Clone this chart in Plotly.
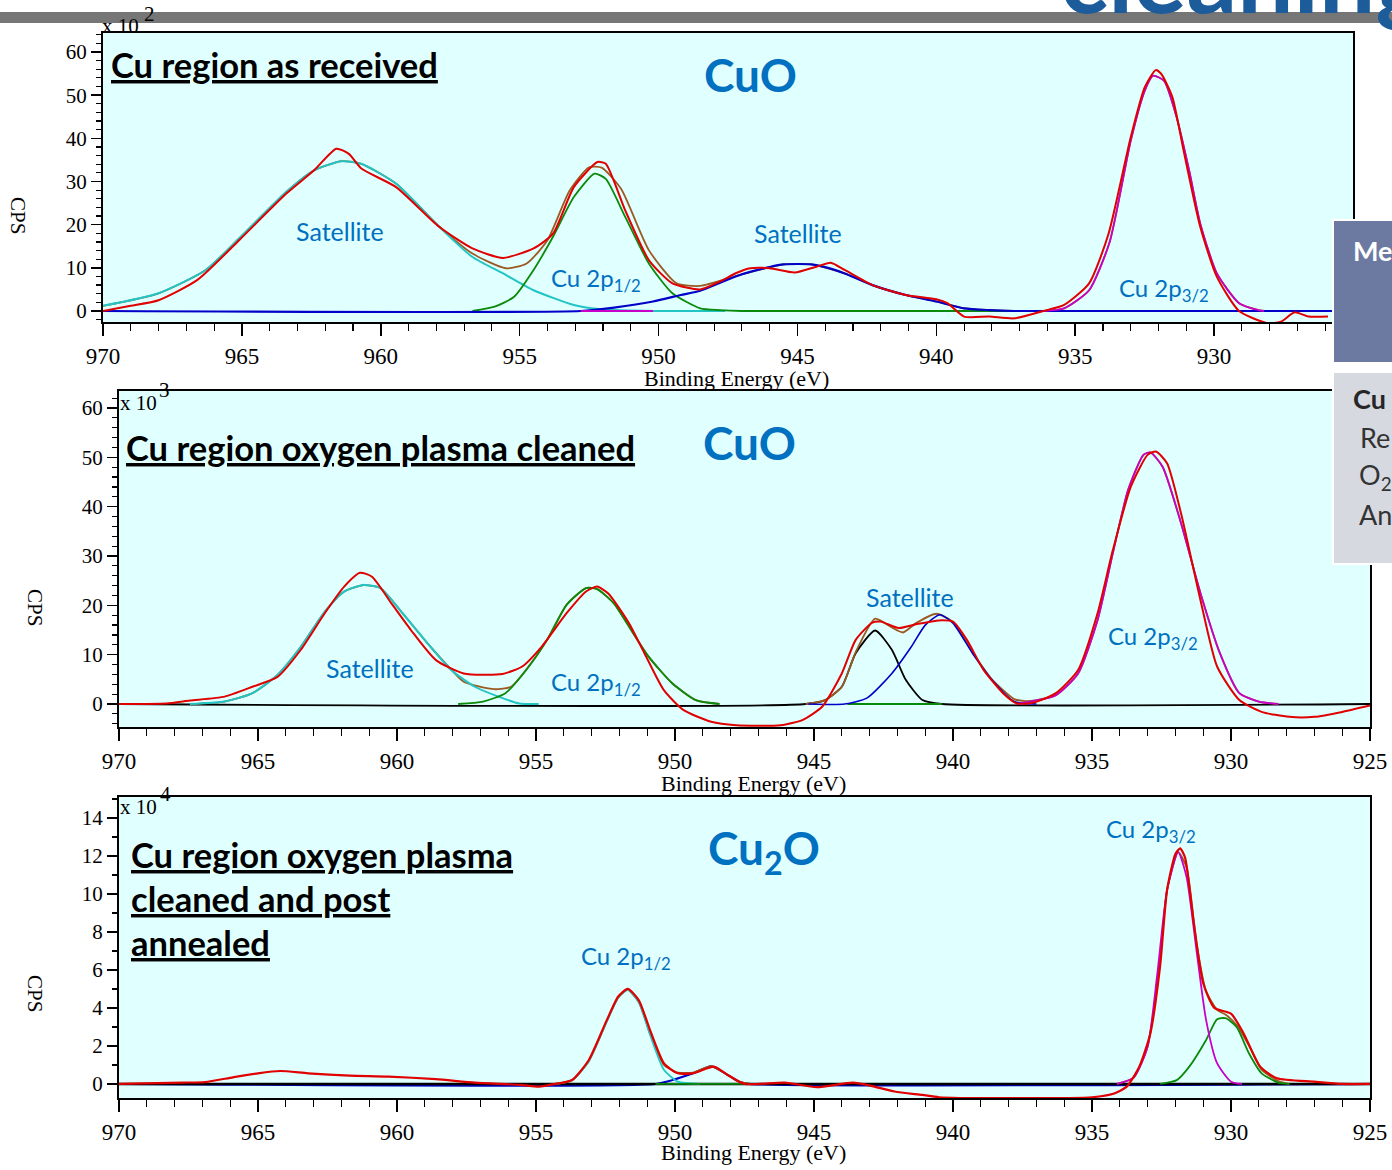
import plotly.graph_objects as go

W, H = 1392, 1170
OFF = 0  # body margin removed below, so figure pixels equal screen pixels

# ---------------- Panel 1 : Cu region as received (CPS x 10^2) ----------------
p1_red_E = [970.0, 969.0, 968.0, 966.6, 965.1, 963.4, 962.4, 961.6, 961.15, 960.7, 959.45, 957.9, 956.7, 955.6,
            954.5, 953.8, 953.05, 952.2, 951.9, 951.2, 950.35, 949.5, 948.5, 947.8, 947.2, 946.7, 946.0, 945.1,
            944.35, 943.8, 943.3, 942.3, 941.1, 940.0, 939.6, 939.0, 938.1, 937.2, 936.15, 935.4, 934.5, 933.8,
            933.0, 932.5, 932.1, 931.9, 931.5, 931.1, 930.5, 929.9, 929.1, 928.1, 927.6, 927.1, 926.6, 925.9]
p1_red_v = [0.0, 1.2, 2.5, 7.2, 16.4, 27.2, 32.6, 37.6, 36.4, 33.0, 28.7, 19.5, 14.5, 12.3,
            14.5, 17.9, 28.7, 34.5, 34.1, 23.3, 11.8, 6.4, 5.0, 6.8, 8.8, 9.9, 9.9, 8.9,
            10.2, 11.2, 9.5, 6.0, 3.7, 2.7, 1.8, -1.3, -1.3, -1.7, 0.0, 1.4, 6.4, 17.9,
            40.3, 51.8, 55.8, 54.9, 49.5, 37.2, 19.5, 7.9, 0.0, -2.8, -2.5, -0.3, -1.3, -1.3]

p1_env_E = [970.0, 968.0, 966.3, 965.1, 963.4, 962.4, 961.4, 960.7, 959.45, 957.9, 956.7, 955.5, 954.75, 954.0,
            953.2, 952.5, 952.05, 951.35, 950.35, 949.35, 948.5, 947.0, 945.5, 944.5, 943.3, 942.3, 941.1, 940.0,
            939.0, 938.1, 937.2, 936.15, 935.4, 934.5, 933.76, 933.0, 932.5, 932.2, 931.8, 931.35, 930.9, 930.5,
            929.9, 929.1, 928.4, 928.0]
p1_env_v = [1.2, 4.1, 9.5, 16.8, 27.6, 32.6, 34.7, 34.1, 29.5, 19.6, 13.3, 9.9, 11.0, 16.4,
            27.9, 33.3, 33.2, 28.3, 14.1, 6.4, 5.8, 8.5, 10.8, 10.8, 8.7, 6.0, 3.7, 2.2,
            0.6, 0.2, 0.0, 0.0, 0.6, 4.8, 16.0, 39.5, 51.0, 54.5, 53.3, 44.9, 32.6, 20.3,
            8.7, 1.8, 0.2, 0.0]

p1_sat1_E = [970.0, 968.0, 966.3, 965.1, 963.4, 962.4, 961.4, 960.7, 959.45, 957.9, 956.7, 955.6, 954.5,
             953.05, 952.05, 950.2, 947.6]
p1_sat1_v = [1.2, 4.1, 9.5, 16.8, 27.6, 32.6, 34.7, 34.1, 29.5, 19.5, 12.5, 8.7, 4.8,
             1.4, 0.4, 0.0, 0.0]

p1_p12_E = [956.7, 955.9, 955.2, 954.5, 953.8, 953.05, 952.3, 951.9, 951.2, 950.35, 949.5, 948.5, 947.8,
            947.0, 937.2]
p1_p12_v = [0.0, 1.0, 3.3, 9.5, 17.2, 26.4, 31.8, 30.6, 21.8, 11.0, 4.1, 0.6, 0.2,
            0.0, 0.0]

p1_sat2_E = [970.0, 952.8, 951.6, 950.2, 949.2, 948.5, 947.8, 947.0, 946.0, 945.5, 944.5, 943.9, 943.3,
             942.3, 941.1, 940.0, 939.0, 938.1, 937.2, 925.0]
p1_sat2_v = [0.0, 0.0, 0.8, 2.2, 3.7, 4.7, 6.5, 8.5, 10.2, 10.8, 10.8, 10.0, 8.7,
             6.0, 3.7, 2.2, 0.6, 0.2, 0.0, 0.0]

p1_p32_E = [952.8, 950.2, None, 936.15, 935.4, 934.5, 933.76, 933.0, 932.5, 932.2, 931.8, 931.35, 930.9,
            930.5, 929.9, 929.1, 928.4, 928.2]
p1_p32_v = [0.0, 0.0, None, 0.0, 0.6, 4.8, 16.0, 39.5, 51.0, 54.5, 53.3, 44.9, 32.6,
            20.3, 8.7, 1.8, 0.2, 0.0]

# ---------------- Panel 2 : oxygen plasma cleaned (CPS x 10^3) ----------------
p2_red_E = [970.0, 968.3, 967.45, 966.2, 965.2, 964.3, 963.46, 962.6, 961.9, 961.33, 960.9, 960.2, 959.5,
            958.6, 957.6, 956.2, 955.5, 954.8, 953.9, 953.2, 952.8, 952.4, 951.66, 951.1, 950.4, 949.7, 948.7,
            947.8, 946.2, 945.4, 944.7, 944.0, 943.5, 942.9, 942.6, 941.95, 941.3, 940.4, 940.0, 939.5, 938.9,
            938.2, 937.7, 937.1, 936.3, 935.5, 934.8, 934.25, 933.6, 933.0, 932.7, 932.3, 931.8, 931.1, 930.5,
            929.7, 928.9, 927.9, 927.0, 926.0, 925.0]
p2_red_v = [0.0, 0.1, 0.7, 1.5, 3.5, 5.5, 11.0, 18.4, 23.8, 26.6, 25.8, 20.4, 15.0,
            8.9, 6.2, 6.1, 7.6, 11.6, 18.4, 22.8, 23.8, 22.4, 16.4, 10.3, 2.8, -1.2, -3.6,
            -4.3, -4.3, -3.2, -0.5, 6.2, 13.0, 16.5, 16.7, 15.4, 16.2, 17.0, 16.7, 13.0, 6.9,
            2.2, 0.1, 0.3, 2.2, 6.9, 18.4, 31.2, 44.1, 50.5, 51.2, 48.8, 38.7, 21.1, 7.6,
            0.8, -1.6, -2.6, -2.6, -1.6, -0.3]

p2_env_E = [967.45, 966.2, 965.2, 964.3, 963.46, 962.6, 961.9, 961.2, 960.6, 959.8, 958.9, 958.05, 957.6,
            956.5, 955.9, 955.35, 954.6, 953.9, 953.2, 952.8, 952.2, 951.5, 950.95, 950.1, 949.25, 948.4, None,
            945.3, 944.6, 944.0, 943.5, 942.8, 942.2, 941.8, 941.3, 940.6, 940.0, 939.3, 938.6, 937.8, 937.4,
            937.0, 936.3, 935.5, 934.8, 934.25, 933.7, 933.15, 932.9, 932.46, 931.8, 931.1, 930.4, 929.7, 929.0,
            928.3]
p2_env_v = [0.0, 0.5, 2.2, 5.9, 11.6, 18.7, 22.8, 24.1, 23.5, 18.4, 12.3, 7.0, 4.5,
            3.0, 3.5, 7.0, 13.0, 20.1, 23.5, 23.3, 20.4, 14.3, 9.6, 4.2, 0.8, 0.0, None,
            0.0, 0.8, 3.5, 10.5, 17.3, 15.5, 14.5, 16.5, 18.3, 16.6, 10.5, 5.0, 1.0, 0.6,
            0.8, 1.8, 6.2, 17.0, 30.6, 43.4, 50.5, 51.0, 48.1, 36.7, 22.5, 10.3, 2.2, 0.5,
            0.0]

p2_sat1_E = [967.45, 966.2, 965.2, 964.3, 963.46, 962.6, 961.9, 961.2, 960.6, 959.8, 958.9, 958.05, 957.2,
             956.35, 955.6, 954.9]
p2_sat1_v = [0.0, 0.5, 2.2, 5.9, 11.6, 18.7, 22.8, 24.1, 23.5, 18.4, 12.3, 6.9, 3.5,
             1.5, 0.1, 0.0]

p2_p12_E = [957.8, 956.9, 956.1, 955.35, 954.6, 953.9, 953.2, 952.8, 952.2, 951.5, 950.95, 950.1, 949.25,
            948.4, None, 943.8, 940.4]
p2_p12_v = [0.0, 0.5, 2.2, 6.9, 13.0, 20.1, 23.5, 23.3, 20.4, 14.3, 9.6, 4.2, 0.8,
            0.0, None, 0.0, 0.0]

p2_satA_E = [970.0, 945.3, 944.6, 944.0, 943.5, 942.8, 942.2, 941.7, 941.1, 940.4, 925.0]
p2_satA_v = [0.0, 0.0, 0.8, 3.5, 10.3, 14.9, 11.0, 4.9, 0.8, 0.0, 0.0]

p2_satB_E = [945.2, 943.9, 943.1, 942.2, 941.5, 941.0, 940.47, 940.0, 939.3, 938.6, 937.8, 937.0]
p2_satB_v = [0.0, 0.0, 1.2, 6.2, 11.6, 16.0, 18.1, 16.4, 10.3, 4.9, 0.5, 0.0]

p2_p32_E = [937.7, 936.3, 935.5, 934.8, 934.25, 933.7, 933.15, 932.9, 932.46, 931.8, 931.1, 930.4, 929.7,
            929.0, 928.3]
p2_p32_v = [0.0, 1.8, 6.2, 17.0, 30.6, 43.4, 50.5, 51.0, 48.1, 36.7, 22.5, 10.3, 2.2,
            0.5, 0.0]

# ---------------- Panel 3 : plasma cleaned + annealed (CPS x 10^4) ----------------
p3_red_E = [970.0, 967.7, 966.9, 965.9, 965.0, 964.2, 963.2, 961.7, 960.3, 958.6, 957.2, 955.55, 954.9,
            954.3, 953.7, 953.1, 952.45, 952.04, 951.7, 951.3, 950.9, 950.4, 949.9, 949.35, 948.6, 948.1, 947.5,
            946.05, 944.9, 943.6, 942.95, 942.1, 941.1, 940.5, 938.3, 935.0, 934.2, 933.75, 933.3, 932.9, 932.55,
            932.3, 932.0, 931.83, 931.65, 931.35, 931.0, 930.6, 930.0, 929.55, 928.95, 928.35, 927.0, 926.0,
            925.0]
p3_red_v = [0.0, 0.07, 0.1, 0.35, 0.56, 0.68, 0.56, 0.44, 0.39, 0.25, 0.07, -0.05, -0.14,
            0.0, 0.21, 1.26, 3.37, 4.6, 5.0, 4.4, 2.84, 1.09, 0.56, 0.56, 0.91, 0.47, 0.0,
            0.07, -0.17, 0.07, -0.1, -0.4, -0.58, -0.7, -0.75, -0.7, -0.5, -0.14, 0.91, 2.67, 6.2,
            10.2, 12.1, 12.4, 11.9, 8.6, 5.3, 4.0, 3.7, 2.67, 0.91, 0.3, 0.12, 0.0,
            0.0]

p3_env_E = [954.3, 953.7, 953.1, 952.45, 952.04, 951.7, 951.3, 950.9, 950.4, 949.9, 949.35, 948.7, 948.1,
            947.7, 947.3, None, 934.1, 933.5, 933.0, 932.6, 932.3, 931.9, 931.6, 931.23, 930.9, 930.5, 930.2,
            929.8, 929.35, 928.9, 928.3, 927.9]
p3_env_v = [0.0, 0.2, 1.2, 3.3, 4.55, 4.95, 4.3, 2.65, 1.0, 0.6, 0.6, 0.93, 0.47,
            0.12, 0.0, None, 0.0, 0.33, 1.96, 5.9, 10.2, 12.2, 11.4, 7.3, 4.9, 3.9, 3.65,
            3.1, 2.0, 0.75, 0.15, 0.0]

p3_p12_E = [954.3, 953.7, 953.1, 952.45, 952.04, 951.7, 951.3, 950.9, 950.4, 949.9, 949.1]
p3_p12_v = [0.0, 0.2, 1.2, 3.3, 4.55, 4.95, 4.3, 2.6, 0.75, 0.12, 0.0]

p3_sat_E = [970.0, 950.7, 950.1, 949.35, 948.7, 948.1, 947.7, 947.3, 925.0]
p3_sat_v = [0.0, 0.0, 0.2, 0.56, 0.93, 0.47, 0.12, 0.0, 0.0]

p3_cu2o_E = [950.7, 947.3, None, 932.55, 931.95, 931.5, 930.9, 930.5, 930.2, 929.8, 929.35, 928.9, 928.3,
             927.9]
p3_cu2o_v = [0.0, 0.0, None, 0.0, 0.2, 0.91, 2.3, 3.4, 3.46, 3.0, 1.6, 0.56, 0.07,
             0.0]

p3_p32_E = [934.1, 933.5, 933.0, 932.65, 932.3, 931.9, 931.6, 931.23, 930.9, 930.5, 930.0, 929.6]
p3_p32_v = [0.0, 0.33, 1.96, 5.8, 10.2, 12.2, 10.9, 6.9, 3.4, 1.09, 0.12, 0.0]

p3_base_E = [970.0, 925.0]
p3_base_v = [0.0, 0.0]

# ---------------- axis ticks ----------------
x_ticks = [970, 965, 960, 955, 950, 945, 940, 935, 930, 925]
y_ticks_12 = [0, 10, 20, 30, 40, 50, 60]
y_ticks_3 = [0, 2, 4, 6, 8, 10, 12, 14]

# colours
RED = "#e00000"
BROWN = "#9a5a22"
CYAN = "#22c4c4"
GREEN = "#0a8a0a"
BLUE = "#0000c8"
MAGENTA = "#c800c8"
BLACK = "#000000"
LABEL_BLUE = "#0070c0"

fig = go.Figure()


def add(xs, ys, color, width, xa, ya):
    fig.add_trace(go.Scatter(x=xs, y=ys, mode="lines", xaxis=xa, yaxis=ya,
                             line=dict(color=color, width=width, shape="spline", smoothing=0.6),
                             connectgaps=False, hoverinfo="skip", showlegend=False))


# panel 1
add(p1_env_E, p1_env_v, BROWN, 1.8, "x", "y")
add(p1_sat1_E, p1_sat1_v, CYAN, 2, "x", "y")
add(p1_p12_E, p1_p12_v, GREEN, 1.8, "x", "y")
add(p1_sat2_E, p1_sat2_v, BLUE, 2.2, "x", "y")
add(p1_p32_E, p1_p32_v, MAGENTA, 1.8, "x", "y")
add(p1_red_E, p1_red_v, RED, 2, "x", "y")
# panel 2
add(p2_satA_E, p2_satA_v, BLACK, 1.8, "x2", "y2")
add(p2_env_E, p2_env_v, BROWN, 1.8, "x2", "y2")
add(p2_sat1_E, p2_sat1_v, CYAN, 2, "x2", "y2")
add(p2_p12_E, p2_p12_v, GREEN, 1.8, "x2", "y2")
add(p2_satB_E, p2_satB_v, BLUE, 1.6, "x2", "y2")
add(p2_p32_E, p2_p32_v, MAGENTA, 1.8, "x2", "y2")
add(p2_red_E, p2_red_v, RED, 2, "x2", "y2")
# panel 3
add(p3_sat_E, p3_sat_v, BLUE, 2, "x3", "y3")
add(p3_base_E, p3_base_v, BLACK, 2.5, "x3", "y3")
add(p3_env_E, p3_env_v, BROWN, 1.8, "x3", "y3")
add(p3_p12_E, p3_p12_v, CYAN, 1.8, "x3", "y3")
add(p3_cu2o_E, p3_cu2o_v, GREEN, 1.8, "x3", "y3")
add(p3_p32_E, p3_p32_v, MAGENTA, 1.8, "x3", "y3")
add(p3_red_E, p3_red_v, RED, 2.2, "x3", "y3")


def PX(x):
    return (x - OFF) / W


def PY(y):
    return 1 - (y - OFF) / H


SERIF = "Liberation Serif"


def xcfg(left, right, anchor):
    return dict(domain=[PX(left), PX(right)], range=[970, 925], autorange=False, anchor=anchor,
                automargin=False,
                showgrid=False, zeroline=False, showline=True, linecolor="black", linewidth=2, mirror=True,
                ticks="outside", ticklen=12, tickwidth=1.5, tickcolor="black",
                tickvals=x_ticks, ticktext=[str(v) for v in x_ticks],
                tickfont=dict(family=SERIF, size=23, color="black"), ticklabelstandoff=0,
                minor=dict(ticks="outside", dtick=1, tick0=0, ticklen=7, tickwidth=1.2,
                           tickcolor="black", showgrid=False))


def ycfg(top, bottom, rng, tv, mdt, anchor):
    return dict(domain=[PY(bottom), PY(top)], range=rng, autorange=False, anchor=anchor,
                automargin=False,
                showgrid=False, zeroline=False, showline=True, linecolor="black", linewidth=2, mirror=True,
                ticks="outside", ticklen=10, tickwidth=1.5, tickcolor="black",
                tickvals=tv, ticktext=[str(v) for v in tv],
                tickfont=dict(family=SERIF, size=21, color="black"), ticklabelstandoff=0,
                minor=dict(ticks="outside", dtick=mdt, tick0=0, ticklen=5, tickwidth=1.2,
                           tickcolor="black", showgrid=False))


fig.update_layout(
    template="none",
    width=W, height=H, margin=dict(l=0, r=0, t=0, b=0, pad=0), autosize=False,
    paper_bgcolor="white", plot_bgcolor="#e0ffff", showlegend=False,
    xaxis=xcfg(103, 1353, "y"),
    yaxis=ycfg(33, 322, [-2.55, 64.4], y_ticks_12, 2, "x"),
    xaxis2=xcfg(119, 1370, "y2"),
    yaxis2=ycfg(391, 727, [-4.66, 63.45], y_ticks_12, 2, "x2"),
    xaxis3=xcfg(119, 1370, "y3"),
    yaxis3=ycfg(797, 1098, [-0.74, 15.1], y_ticks_3, 1, "x3"),
)

TITLE_FONT = dict(family="Lato", size=34.5, color="black", weight="bold", lineposition="under")
BIG_FONT = dict(family="Lato", size=46, color=LABEL_BLUE, weight="bold")
LBL_FONT = dict(family="Lato", size=24, color=LABEL_BLUE)
SAT_FONT = dict(family="Lato", size=25, color=LABEL_BLUE)
SER_FONT = dict(family=SERIF, size=21, color="black")
AX_FONT = dict(family=SERIF, size=22, color="black")

ann = []


def A(text, x, y, font, xanchor="center", yanchor="middle", **kw):
    ann.append(dict(text=text, x=PX(x), y=PY(y), xref="paper", yref="paper", showarrow=False,
                    xanchor=xanchor, yanchor=yanchor, font=font, **kw))


# panel 1
A("Cu region as received", 109, 64, TITLE_FONT, xanchor="left")
A("CuO", 750, 74, BIG_FONT)
A("Satellite", 340, 231, SAT_FONT)
A("Cu 2p<sub>1/2</sub>", 549, 279, LBL_FONT, xanchor="left")
A("Satellite", 798, 233, SAT_FONT)
A("Cu 2p<sub>3/2</sub>", 1117, 289, LBL_FONT, xanchor="left")
A("x 10", 100, 26, SER_FONT, xanchor="left")
A("2", 142, 14, SER_FONT, xanchor="left")
A("Binding Energy (eV)", 736, 379, AX_FONT)
A("CPS", 18, 215, SER_FONT, textangle=90)
# panel 2
A("Cu region oxygen plasma cleaned", 124, 448, TITLE_FONT, xanchor="left")
A("CuO", 749, 442, BIG_FONT)
A("Satellite", 370, 668, SAT_FONT)
A("Cu 2p<sub>1/2</sub>", 549, 683, LBL_FONT, xanchor="left")
A("Satellite", 910, 597, SAT_FONT)
A("Cu 2p<sub>3/2</sub>", 1106, 637, LBL_FONT, xanchor="left")
A("x 10", 118, 403, SER_FONT, xanchor="left")
A("3", 157, 390, SER_FONT, xanchor="left")
A("Binding Energy (eV)", 753, 783, AX_FONT)
A("CPS", 35, 607, SER_FONT, textangle=90)
# panel 3
A("Cu region oxygen plasma", 129, 854, TITLE_FONT, xanchor="left")
A("cleaned and post", 129, 898, TITLE_FONT, xanchor="left")
A("annealed", 129, 942, TITLE_FONT, xanchor="left")
A("Cu<sub>2</sub>O", 764, 851, BIG_FONT)
A("Cu 2p<sub>1/2</sub>", 579, 957, LBL_FONT, xanchor="left")
A("Cu 2p<sub>3/2</sub>", 1104, 830, LBL_FONT, xanchor="left")
A("x 10", 118, 807, SER_FONT, xanchor="left")
A("4", 158, 794, SER_FONT, xanchor="left")
A("Binding Energy (eV)", 753, 1152, AX_FONT)
A("CPS", 35, 993, SER_FONT, textangle=90)

# slide decorations
A("cleaning", 1430, 36, dict(family="Lato", size=100, color="#1d5c9a", weight="bold"),
  xanchor="right", yanchor="bottom")
A("Me", 1351, 250, dict(family="Lato", size=27, color="white", weight="bold"), xanchor="left")
A("Cu", 1351, 398, dict(family="Lato", size=27, color="#262626", weight="bold"), xanchor="left")
A("Re", 1358, 437, dict(family="Lato", size=27, color="#333333"), xanchor="left")
A("O<sub>2</sub>", 1357, 476, dict(family="Lato", size=27, color="#333333"), xanchor="left")
A("An", 1357, 514, dict(family="Lato", size=27, color="#333333"), xanchor="left")

fig.update_layout(annotations=ann)

shapes = [
    dict(type="rect", xref="paper", yref="paper", x0=0, x1=1, y0=PY(23), y1=PY(12),
         fillcolor="#767676", line=dict(width=0), layer="below"),
    dict(type="rect", xref="paper", yref="paper", x0=PX(1333), x1=PX(1400), y0=PY(363), y1=PY(220),
         fillcolor="#6c7aa1", line=dict(color="white", width=2), layer="above"),
    dict(type="rect", xref="paper", yref="paper", x0=PX(1333), x1=PX(1400), y0=PY(564), y1=PY(372),
         fillcolor="#d7d9e1", line=dict(color="white", width=2), layer="above"),
]
fig.update_layout(shapes=shapes)

fig.write_html("out.html",
               config={"displayModeBar": False, "staticPlot": True},
               post_script="document.body.style.margin='0px';document.body.style.overflow='hidden';")
